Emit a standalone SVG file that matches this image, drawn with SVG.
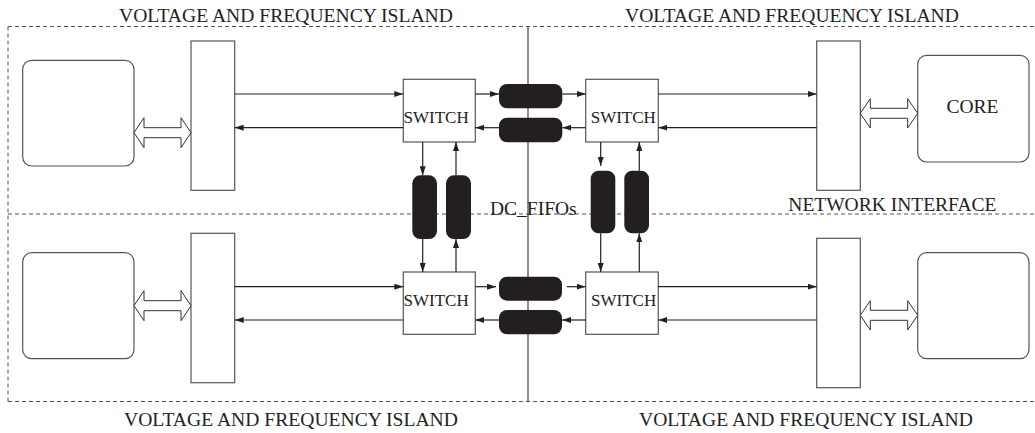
<svg xmlns="http://www.w3.org/2000/svg" width="1035" height="433" viewBox="0 0 1035 433">
<style>
.t{font-family:"Liberation Serif","Times New Roman",serif;fill:#222}
.big{font-size:19.5px}
.ttl{font-size:19.6px}
.sw{font-size:17px}
.dash{fill:none;stroke:#555;stroke-width:1;stroke-dasharray:4 3}
.box{fill:#fff;stroke:#555;stroke-width:1.2}
.fifo{fill:#231f20;stroke:none}
.dbl{fill:#fff;stroke:#333;stroke-width:1}
.c{stroke:#222;stroke-width:1.2;fill:none;marker-end:url(#ah)}
</style>
<defs>
<marker id="ah" viewBox="0 0 9 6" refX="9" refY="3" markerWidth="9" markerHeight="6" markerUnits="userSpaceOnUse" orient="auto">
<path d="M0,0 L9,3 L0,6 z" fill="#222"/>
</marker>
</defs>
<rect width="1035" height="433" fill="#fff"/>
<g id="islands">
<path class="dash" d="M8,26.5 H1035 M8,214 H1035 M8,401.5 H1035 M8,26.5 V401.5"/>
<line x1="528" y1="26.5" x2="528" y2="401.5" stroke="#444" stroke-width="1.2"/>
<text class="t ttl" x="119" y="22">VOLTAGE AND FREQUENCY ISLAND</text>
<text class="t ttl" x="625" y="22">VOLTAGE AND FREQUENCY ISLAND</text>
<text class="t ttl" x="124" y="426">VOLTAGE AND FREQUENCY ISLAND</text>
<text class="t ttl" x="639" y="426">VOLTAGE AND FREQUENCY ISLAND</text>
</g>
<g id="core-tl"><rect class="box" x="22.7" y="60.3" width="111.3" height="105.7" rx="9"/></g>
<g id="core-tr"><rect class="box" x="917.7" y="55.3" width="111.3" height="106.7" rx="9"/><text class="t big" x="946.5" y="113.3">CORE</text></g>
<g id="core-bl"><rect class="box" x="22.7" y="252.7" width="111.3" height="106" rx="9"/></g>
<g id="core-br"><rect class="box" x="917.7" y="252.7" width="111.3" height="106" rx="9"/></g>
<g id="ni-tl"><rect class="box" x="191" y="41" width="43.7" height="149.3"/></g>
<g id="ni-tr"><rect class="box" x="816.7" y="41" width="43.6" height="149.3"/><text class="t big" x="788.3" y="210.7">NETWORK INTERFACE</text></g>
<g id="ni-bl"><rect class="box" x="191" y="233.3" width="43.7" height="149.4"/></g>
<g id="ni-br"><rect class="box" x="816.7" y="238.3" width="43.6" height="149.4"/></g>
<g id="sw-tl"><rect class="box" x="403.3" y="79.3" width="72" height="62.7"/><text class="t sw" x="403.5" y="123.3">SWITCH</text></g>
<g id="sw-tr"><rect class="box" x="585.7" y="79.3" width="72.6" height="62.7"/><text class="t sw" x="590.7" y="123.3">SWITCH</text></g>
<g id="sw-bl"><rect class="box" x="403.3" y="272" width="72" height="62.3"/><text class="t sw" x="403.5" y="306">SWITCH</text></g>
<g id="sw-br"><rect class="box" x="585.7" y="272" width="72.6" height="62.3"/><text class="t sw" x="591" y="306">SWITCH</text></g>
<g id="dc-fifos">
<rect class="fifo" x="499" y="84" width="63.3" height="24.3" rx="8"/>
<rect class="fifo" x="499" y="117.7" width="63.3" height="24.6" rx="8"/>
<rect class="fifo" x="499" y="276.7" width="63" height="24" rx="8"/>
<rect class="fifo" x="499" y="310" width="63" height="24.3" rx="8"/>
<rect class="fifo" x="412.3" y="175.3" width="24.7" height="63.7" rx="8"/>
<rect class="fifo" x="446" y="175.3" width="25" height="63.7" rx="8"/>
<rect class="fifo" x="590.7" y="170.7" width="24.6" height="62.6" rx="8"/>
<rect class="fifo" x="624.3" y="170.7" width="24.7" height="62.6" rx="8"/>
<text class="t big" x="490" y="215">DC_FIFOs</text>
</g>
<g id="connectors">
<polygon class="dbl" points="134,132.7 144,117.7 144,127.7 181,127.7 181,117.7 191,132.7 181,147.7 181,137.7 144,137.7 144,147.7"/>
<polygon class="dbl" points="860.3,113.3 870.3,98.7 870.3,108.3 907.7,108.3 907.7,98.7 917.7,113.3 907.7,128 907.7,118.3 870.3,118.3 870.3,128"/>
<polygon class="dbl" points="134,305.7 144,290.7 144,300.7 181,300.7 181,290.7 191,305.7 181,320.7 181,310.7 144,310.7 144,320.7"/>
<polygon class="dbl" points="860.3,315.3 870.3,300.7 870.3,310.3 907.7,310.3 907.7,300.7 917.7,315.3 907.7,330 907.7,320.3 870.3,320.3 870.3,330"/>
<line class="c" x1="234.7" y1="94" x2="403.3" y2="94"/>
<line class="c" x1="403.3" y1="127.7" x2="234.7" y2="127.7"/>
<line class="c" x1="475.3" y1="94" x2="499" y2="94"/>
<line class="c" x1="499" y1="127.7" x2="475.3" y2="127.7"/>
<line class="c" x1="562.3" y1="94" x2="585.7" y2="94"/>
<line class="c" x1="585.7" y1="127.7" x2="562.3" y2="127.7"/>
<line class="c" x1="658.3" y1="94" x2="816.7" y2="94"/>
<line class="c" x1="816.7" y1="127.7" x2="658.3" y2="127.7"/>
<line class="c" x1="234.7" y1="286.7" x2="403.3" y2="286.7"/>
<line class="c" x1="403.3" y1="320" x2="234.7" y2="320"/>
<line class="c" x1="475.3" y1="286.7" x2="496" y2="286.7"/>
<line class="c" x1="499" y1="320" x2="475.3" y2="320"/>
<line class="c" x1="566.7" y1="286.7" x2="585.7" y2="286.7"/>
<line class="c" x1="585.7" y1="320" x2="562" y2="320"/>
<line class="c" x1="658.3" y1="286.7" x2="816.7" y2="286.7"/>
<line class="c" x1="816.7" y1="320" x2="658.3" y2="320"/>
<line class="c" x1="422.7" y1="142" x2="422.7" y2="175.3"/>
<line class="c" x1="456" y1="175.3" x2="456" y2="142"/>
<line class="c" x1="422.7" y1="239" x2="422.7" y2="272"/>
<line class="c" x1="456" y1="272" x2="456" y2="239"/>
<line class="c" x1="600.7" y1="142" x2="600.7" y2="166"/>
<line class="c" x1="639.3" y1="170.7" x2="639.3" y2="142"/>
<line class="c" x1="600.7" y1="233.3" x2="600.7" y2="272"/>
<line class="c" x1="639.3" y1="272" x2="639.3" y2="233.3"/>
</g>
</svg>
